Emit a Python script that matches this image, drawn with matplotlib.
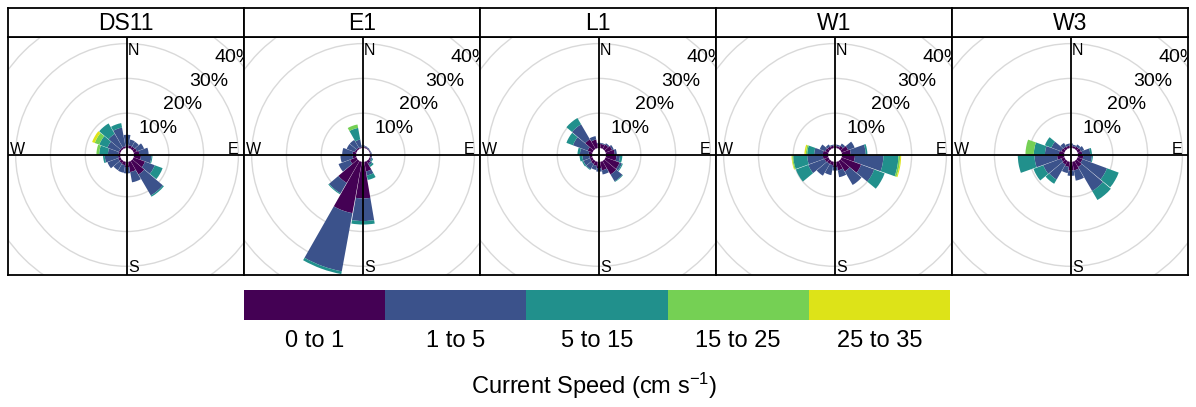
import matplotlib

matplotlib.use("Agg")
import matplotlib.pyplot as plt
import numpy as np
from matplotlib.cm import ScalarMappable
from matplotlib.colors import BoundaryNorm, ListedColormap
from matplotlib.patches import Circle, Wedge

plt.rcParams["font.family"] = ["Liberation Sans", "DejaVu Sans"]
plt.rcParams["mathtext.fontset"] = "custom"
plt.rcParams["mathtext.rm"] = "Liberation Sans"
plt.rcParams["mathtext.it"] = "Liberation Sans:italic"

# current roses, 20 degree bins, % of records per speed class
sites = ["DS11", "E1", "L1", "W1", "W3"]
directions = np.arange(0, 360, 20)
speed_bins = ["0 to 1", "1 to 5", "5 to 15", "15 to 25", "25 to 35"]
speed_colours = ["#440154", "#3B528B", "#21908C", "#75D054", "#DDE318"]
grid_pct = [10, 20, 30, 40]

#        0-1  1-5  5-15 15-25 25-35
ds11 = [[0.8, 3.0, 0.0, 0.0, 0.0],   # 0
        [0.8, 1.7, 0.0, 0.0, 0.0],   # 20
        [0.8, 1.6, 0.0, 0.0, 0.0],   # 40
        [1.0, 2.2, 0.0, 0.0, 0.0],   # 60
        [1.5, 2.7, 0.0, 0.0, 0.0],   # 80
        [2.0, 3.0, 0.3, 0.0, 0.0],   # 100
        [3.5, 3.0, 2.4, 0.0, 0.0],   # 120
        [4.5, 7.0, 0.4, 0.0, 0.0],   # 140
        [3.0, 3.0, 0.0, 0.0, 0.0],   # 160
        [1.5, 1.8, 0.0, 0.0, 0.0],   # 180
        [1.0, 2.2, 0.0, 0.0, 0.0],   # 200
        [0.8, 2.3, 0.0, 0.0, 0.0],   # 220
        [0.7, 3.3, 0.0, 0.0, 0.0],   # 240
        [0.6, 3.8, 0.5, 0.0, 0.0],   # 260
        [0.5, 3.0, 2.5, 0.8, 0.0],   # 280
        [0.5, 3.5, 2.5, 1.4, 0.8],   # 300
        [0.5, 4.5, 3.5, 0.0, 0.0],   # 320
        [0.5, 5.5, 1.3, 0.0, 0.0]]   # 340

e1 = [[0.3, 0.5, 0.0, 0.0, 0.0],
      [0.3, 0.3, 0.0, 0.0, 0.0],
      [0.2, 0.3, 0.0, 0.0, 0.0],
      [0.2, 0.2, 0.0, 0.0, 0.0],
      [0.2, 0.3, 0.0, 0.0, 0.0],
      [0.3, 0.3, 0.0, 0.0, 0.0],
      [0.4, 0.4, 0.3, 0.0, 0.0],
      [0.8, 0.6, 0.6, 0.0, 0.0],
      [2.8, 1.2, 1.3, 0.0, 0.0],
      [10.5, 6.5, 1.0, 0.0, 0.0],
      [15.0, 17.0, 0.8, 0.0, 0.0],
      [7.3, 3.5, 0.3, 0.0, 0.0],
      [2.0, 3.5, 0.0, 0.0, 0.0],
      [1.0, 3.5, 0.0, 0.0, 0.0],
      [1.0, 3.0, 0.0, 0.0, 0.0],
      [0.5, 2.5, 0.0, 0.0, 0.0],
      [0.4, 2.6, 0.0, 0.0, 0.0],
      [0.3, 2.2, 3.4, 1.0, 0.0]]

l1 = [[1.2, 0.3, 0.0, 0.0, 0.0],
      [1.2, 0.3, 0.0, 0.0, 0.0],
      [1.5, 0.4, 0.0, 0.0, 0.0],
      [2.0, 0.5, 0.0, 0.0, 0.0],
      [2.5, 0.6, 0.0, 0.0, 0.0],
      [3.0, 1.0, 0.7, 0.0, 0.0],
      [4.3, 0.7, 0.3, 0.0, 0.0],
      [4.5, 2.3, 0.2, 0.0, 0.0],
      [2.5, 1.2, 0.0, 0.0, 0.0],
      [1.8, 1.0, 0.0, 0.0, 0.0],
      [1.2, 1.2, 0.0, 0.0, 0.0],
      [1.0, 1.8, 0.2, 0.0, 0.0],
      [0.8, 2.0, 0.4, 0.0, 0.0],
      [0.8, 2.0, 0.8, 0.0, 0.0],
      [1.0, 2.5, 0.7, 0.0, 0.0],
      [1.5, 4.5, 2.0, 0.0, 0.0],
      [3.2, 5.0, 2.1, 0.0, 0.0],
      [2.5, 1.0, 0.0, 0.0, 0.0]]

w1 = [[0.7, 0.3, 0.0, 0.0, 0.0],
      [0.6, 0.4, 0.0, 0.0, 0.0],
      [1.0, 0.8, 0.0, 0.0, 0.0],
      [2.0, 2.0, 0.0, 0.0, 0.0],
      [2.5, 4.3, 0.5, 0.0, 0.0],
      [3.7, 8.2, 4.3, 0.5, 0.3],
      [6.0, 4.0, 3.2, 0.0, 0.0],
      [3.5, 4.5, 0.0, 0.0, 0.0],
      [2.5, 2.0, 0.0, 0.0, 0.0],
      [1.5, 1.0, 0.0, 0.0, 0.0],
      [1.0, 2.9, 0.0, 0.0, 0.0],
      [1.0, 3.9, 0.0, 0.0, 0.0],
      [1.2, 5.0, 3.8, 0.0, 0.0],
      [1.5, 4.5, 4.0, 0.3, 0.2],
      [1.5, 2.5, 2.0, 0.4, 0.4],
      [1.0, 1.7, 0.0, 0.0, 0.0],
      [0.8, 0.7, 0.0, 0.0, 0.0],
      [0.7, 0.3, 0.0, 0.0, 0.0]]

w3 = [[0.8, 0.5, 0.0, 0.0, 0.0],
      [0.6, 0.4, 0.0, 0.0, 0.0],
      [0.8, 0.7, 0.0, 0.0, 0.0],
      [1.0, 1.0, 0.0, 0.0, 0.0],
      [1.2, 2.3, 0.5, 0.0, 0.0],
      [1.5, 2.5, 0.3, 0.0, 0.0],
      [1.5, 7.5, 3.6, 0.0, 0.0],
      [2.0, 8.0, 3.0, 0.0, 0.0],
      [2.5, 3.0, 0.0, 0.0, 0.0],
      [2.5, 1.5, 0.0, 0.0, 0.0],
      [1.5, 1.8, 0.0, 0.0, 0.0],
      [1.2, 5.0, 1.4, 0.0, 0.0],
      [1.0, 5.5, 3.0, 0.0, 0.0],
      [2.0, 6.5, 4.8, 0.0, 0.0],
      [1.5, 4.0, 3.2, 2.4, 0.0],
      [1.0, 3.0, 2.0, 0.0, 0.0],
      [0.8, 1.2, 0.0, 0.0, 0.0],
      [0.7, 0.6, 0.0, 0.0, 0.0]]

site_freqs = [ds11, e1, l1, w1, w3]

HOLE = 2.0     # offset hole in the middle (in % units)
SPAN = 19.3    # 20 degree bins, small gap between them
W, H = 1196, 407


def draw_rose(ax, freqs):
    for p in grid_pct:
        ax.add_patch(Circle((0, 0), HOLE + p, fill=False, ec="#d9d9d9", lw=1.0, zorder=1))
    for d, row in zip(directions, freqs):
        th = 90 - d
        r0 = HOLE
        for k, f in enumerate(row):
            if f <= 0:
                continue
            ax.add_patch(Wedge((0, 0), r0 + f, th - SPAN / 2, th + SPAN / 2, width=f,
                               fc=speed_colours[k], ec="none", zorder=2))
            r0 += f
    ax.axhline(0, color="black", lw=1.3, zorder=3)
    ax.axvline(0, color="black", lw=1.3, zorder=3)
    ang = np.deg2rad(43)
    for p in grid_pct:
        r = HOLE + p
        ax.text(r * np.cos(ang), r * np.sin(ang), f"{p}%", fontsize=14,
                ha="center", va="center_baseline", zorder=4, clip_on=True)
    ax.text(0.25, 32.3, "N", fontsize=11.5, ha="left", va="top", zorder=4)
    ax.text(0.25, -33.6, "S", fontsize=11.5, ha="left", va="baseline", zorder=4)
    ax.text(-33.7, 0.3, "W", fontsize=11.5, ha="left", va="baseline", zorder=4)
    ax.text(31.9, 0.3, "E", fontsize=11.5, ha="right", va="baseline", zorder=4)
    ax.set_xlim(-34.2, 33.6)
    ax.set_ylim(-34.5, 33.9)
    ax.set_xticks([])
    ax.set_yticks([])
    for s in ax.spines.values():
        s.set_linewidth(1.3)


fig = plt.figure(figsize=(W / 100, H / 100), dpi=100)

for i, (site, freqs) in enumerate(zip(sites, site_freqs)):
    left = (8 + 236 * i) / W
    ax = fig.add_axes([left, (H - 275) / H, 236 / W, 238 / H])
    draw_rose(ax, freqs)
    strip = fig.add_axes([left, (H - 37) / H, 236 / W, 29 / H])
    strip.set_xticks([])
    strip.set_yticks([])
    for s in strip.spines.values():
        s.set_linewidth(1.3)
    strip.text(0.5, 0.45, site, fontsize=16.5, ha="center", va="center",
               transform=strip.transAxes)

# speed legend
cax = fig.add_axes([244 / W, (H - 320) / H, 706 / W, 30 / H])
sm = ScalarMappable(norm=BoundaryNorm(np.arange(6), 5), cmap=ListedColormap(speed_colours))
cb = fig.colorbar(sm, cax=cax, orientation="horizontal", ticks=np.arange(5) + 0.5)
cb.set_ticklabels(speed_bins)
cb.outline.set_visible(False)
cax.minorticks_off()
cax.tick_params(which="both", length=0, labelsize=17, pad=7)
fig.text(594 / W, (H - 394) / H, r"Current Speed (cm s$^{-1}$)", fontsize=17,
         ha="center", va="baseline")

fig.savefig("out.png", dpi=100)
